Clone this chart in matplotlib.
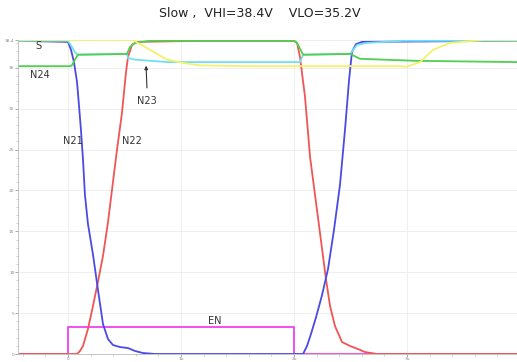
import matplotlib
matplotlib.use('Agg')
from matplotlib import pyplot as plt
from matplotlib.ticker import MultipleLocator

# time (us) / voltage (V)
n21_t = [-0.442, 0.0, 0.027, 0.053, 0.08, 0.097, 0.115, 0.133, 0.15, 0.177, 0.221,
         0.265, 0.31, 0.354, 0.398, 0.46, 0.531, 0.593, 0.664, 0.77,
         2.08, 2.115, 2.15, 2.195, 2.248, 2.301, 2.354, 2.407, 2.451, 2.487, 2.513,
         2.549, 2.602, 3.973]
n21_v = [38.3, 38.17, 37.2, 35.7, 33.3, 30.5, 27.4, 23.8, 19.5, 15.9, 12.2,
         7.9, 3.66, 1.83, 1.1, 0.85, 0.73, 0.37, 0.12, 0.0,
         0.0, 0.98, 2.44, 4.5, 7.2, 10.4, 15.2, 20.7, 27.4, 33.5, 36.95,
         37.9, 38.17, 38.3]

n22_t = [-0.442, 0.08, 0.106, 0.133, 0.177, 0.221, 0.265, 0.31, 0.354, 0.398, 0.434,
         0.478, 0.513, 0.531, 0.566, 0.611, 1.168, 2.0, 2.027, 2.053, 2.097, 2.142,
         2.212, 2.283, 2.319, 2.363, 2.425, 2.496, 2.566, 2.628, 2.735, 3.973]
n22_v = [0.0, 0.0, 0.37, 0.98, 3.05, 5.85, 8.8, 12.0, 16.1, 21.0, 25.0,
         29.5, 34.4, 36.3, 37.8, 38.17, 38.3, 38.3, 38.05, 36.3, 31.5, 24.1,
         16.7, 9.15, 5.85, 3.4, 1.46, 0.98, 0.61, 0.24, 0.0, 0.0]

n23_t = [-0.442, 0.0, 0.035, 0.062, 0.088, 0.522, 0.531, 0.593, 0.876, 2.053, 2.08,
         2.496, 2.558, 2.646, 2.965, 3.973]
n23_v = [38.3, 38.3, 37.56, 36.9, 36.6, 36.7, 36.2, 36.0, 35.7, 35.7, 36.6,
         36.7, 37.8, 38.05, 38.3, 38.3]

n24_t = [-0.442, 0.018, 0.035, 0.062, 0.088, 0.522, 0.549, 0.593, 0.726, 2.0, 2.027,
         2.08, 2.496, 2.584, 3.088, 3.973]
n24_v = [35.2, 35.2, 35.3, 36.0, 36.6, 36.7, 37.56, 38.05, 38.3, 38.3, 38.05,
         36.6, 36.7, 36.1, 35.85, 35.7]

s_t = [-0.442, 0.58, 0.611, 0.726, 0.876, 1.018, 1.168, 1.6, 2.9, 3.0, 3.115, 3.23,
       3.38, 3.673, 3.973]
s_v = [38.4, 38.4, 38.1, 37.2, 36.0, 35.6, 35.3, 35.2, 35.2, 35.15, 35.7, 37.2,
       38.05, 38.4, 38.4]

en_t = [-0.442, 0.0, 0.0, 2.0, 2.0, 3.973]
en_v = [0.0, 0.0, 3.3, 3.3, 0.0, 0.0]

fig = plt.figure(figsize=(5.17, 3.62), dpi=100)
ax = fig.add_axes([18 / 517, 8 / 362, 499 / 517, 314 / 362])

ax.plot(en_t, en_v, color='#f040f0', lw=1.3)
ax.plot(n22_t, n22_v, color='#f05555', lw=1.3)
ax.plot(n21_t, n21_v, color='#4a4ae6', lw=1.3)
ax.plot(n23_t, n23_v, color='#6fe0f2', lw=1.3)
ax.plot(n24_t, n24_v, color='#4fd04f', lw=1.3)
ax.plot(s_t, s_v, color='#f6f06a', lw=1.3)

ax.set_xlim(-0.442, 3.973)
ax.set_ylim(0, 38.4)
ax.set_xticks([0, 1, 2, 3])
ax.set_xticklabels(['0', '1u', '2u', '3u'])
ax.set_yticks([0, 5, 10, 15, 20, 25, 30, 35, 38.4])
ax.set_yticklabels(['0', '5', '10', '15', '20', '25', '30', '35', '38.4'])
ax.xaxis.set_minor_locator(MultipleLocator(0.2))
ax.yaxis.set_minor_locator(MultipleLocator(1))
ax.tick_params(labelsize=3.2, colors='#888888', length=2, width=0.5, pad=0.5)
ax.tick_params(which='minor', length=1.2, width=0.4, colors='#aaaaaa')
ax.grid(True, color='#ececec', lw=0.6)
ax.set_axisbelow(True)
for side in ['top', 'right']:
    ax.spines[side].set_visible(False)
for side in ['left', 'bottom']:
    ax.spines[side].set_color('#bbbbbb')
    ax.spines[side].set_linewidth(0.6)

lab = dict(fontsize=7, color='#333333', ha='center', va='center')
ax.text(-0.265, 37.7, 'S', **lab)
ax.text(-0.25, 34.1, 'N24', **lab)
ax.text(0.70, 31.0, 'N23', **lab)
ax.annotate('', xy=(0.69, 35.6), xytext=(0.70, 32.2),
            arrowprops=dict(arrowstyle='-|>', color='#333333', lw=0.8,
                            mutation_scale=5))
ax.text(0.04, 26.0, 'N21', **lab)
ax.text(0.57, 26.0, 'N22', **lab)
ax.text(1.30, 4.0, 'EN', **lab)

fig.text(260 / 517, 1 - 14 / 362, 'Slow ,  VHI=38.4V    VLO=35.2V',
         fontsize=9, color='#222222', ha='center', va='center')

fig.savefig('out.png', dpi=100)
